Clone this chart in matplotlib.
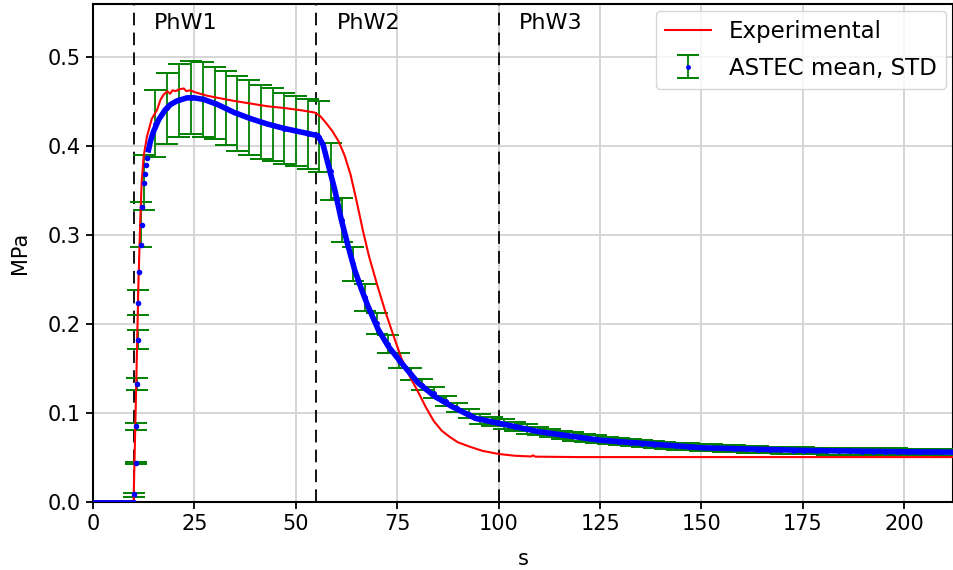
import numpy as np
import matplotlib.pyplot as plt

# experimental pressure trace
t_exp = [0, 10.0, 10.3, 10.6, 10.9, 11.2, 11.6, 12.0, 12.5, 13.3, 14.5, 15.8,
         16.6, 17.4, 18.3, 19.0, 19.6, 20.4, 21.2, 22.4, 23.0, 24.0, 25.0,
         26.5, 28.0, 30.7, 34.8, 38.9, 43.0, 47.2, 51.3, 54.6, 56.0, 57.5,
         59.0, 60.5, 62.0, 63.5, 65.0, 66.5, 68.0, 70.0, 72.0, 74.0, 76.0,
         78.0, 80.0, 82.0, 84.0, 86.0, 88.0, 90.0, 93.0, 96.0, 100.0, 104.0,
         108.0, 108.5, 109.0, 120.0, 150.0, 180.0, 213.0]
p_exp = [0.001, 0.001, 0.06, 0.12, 0.185, 0.245, 0.31, 0.36, 0.389, 0.411,
         0.431, 0.441, 0.452, 0.458, 0.462, 0.459, 0.463, 0.462, 0.464, 0.465,
         0.462, 0.463, 0.461, 0.459, 0.457, 0.4545, 0.451, 0.448, 0.445,
         0.443, 0.4405, 0.438, 0.434, 0.426, 0.417, 0.406, 0.39, 0.368,
         0.338, 0.306, 0.277, 0.245, 0.215, 0.188, 0.162, 0.142, 0.125,
         0.107, 0.091, 0.080, 0.073, 0.067, 0.062, 0.0575, 0.054, 0.052,
         0.0512, 0.0525, 0.051, 0.0505, 0.0505, 0.0505, 0.0505]

# ASTEC mean curve
t_mean = [0, 10.0, 10.2, 10.5, 10.65, 10.8, 11.0, 11.2, 11.4, 11.8, 12.0,
          12.2, 12.5, 12.7, 13.05, 13.3, 13.7, 14.1, 14.5, 14.95, 16.2, 17.8,
          19.1, 20.7, 23.2, 24.9, 27.3, 30.7, 34.8, 38.9, 43.0, 47.2, 51.3,
          55.4, 56.7, 57.9, 59.6, 61.2, 62.9, 64.5, 66.2, 67.8, 70.3, 72.8,
          76.1, 80.2, 84.3, 88.5, 94.3, 100.0, 110.0, 125.0, 150.0, 175.0,
          200.0, 213.0]
p_mean = [0.001, 0.001, 0.0085, 0.044, 0.085, 0.133, 0.182, 0.224, 0.259,
          0.289, 0.312, 0.332, 0.359, 0.369, 0.3795, 0.387, 0.396, 0.4046,
          0.411, 0.417, 0.430, 0.441, 0.447, 0.451, 0.4545, 0.4545, 0.4527,
          0.447, 0.438, 0.431, 0.425, 0.420, 0.416, 0.412, 0.402, 0.381,
          0.351, 0.3176, 0.2875, 0.261, 0.239, 0.22, 0.194, 0.175, 0.156,
          0.1337, 0.1186, 0.1073, 0.094, 0.0886, 0.079, 0.0695, 0.061,
          0.058, 0.0565, 0.056]

# ASTEC error bars (mean +- STD)
t_bar = [10.2, 10.5, 10.65, 10.8, 11.0, 11.2, 11.9, 12.5, 15.4, 18.3, 21.3,
         24.2, 27.1, 30.0, 32.8, 35.6, 38.5, 41.4, 44.3, 47.2, 50.1, 52.9,
         55.8, 58.6, 61.4, 64.2, 67.1, 69.9, 72.7, 75.5, 78.4, 81.2, 84.1,
         86.9, 89.8, 92.7, 95.5, 98.4, 101.2, 104.1, 106.9, 109.8, 112.6,
         115.5, 118.3, 121.2, 124.0, 126.9, 129.7, 132.6, 135.4, 138.3,
         141.1, 144.0, 146.8, 149.7, 152.5, 155.4, 158.2, 161.1, 163.9,
         166.8, 169.6, 172.5, 175.3, 178.2, 181.0, 183.9, 186.7, 189.6,
         192.4, 195.3, 198.1, 201.0, 203.8, 206.7, 209.5, 212.4]
p_bar = [0.008, 0.044, 0.085, 0.133, 0.1825, 0.224, 0.312, 0.359, 0.4255,
         0.4425, 0.4515, 0.4545, 0.453, 0.4485, 0.443, 0.437, 0.432, 0.427,
         0.424, 0.420, 0.417, 0.414, 0.411, 0.372, 0.317, 0.268, 0.230,
         0.201, 0.178, 0.159, 0.144, 0.132, 0.123, 0.1135, 0.106, 0.0995,
         0.0935, 0.0905, 0.0875, 0.0848, 0.0822, 0.0798, 0.0776, 0.0756,
         0.0738, 0.0722, 0.0706, 0.0692, 0.0679, 0.0667, 0.0656, 0.0646,
         0.0637, 0.0629, 0.0621, 0.0614, 0.0608, 0.0602, 0.0597, 0.0593,
         0.0589, 0.0585, 0.0582, 0.0579, 0.0576, 0.0574, 0.0572, 0.057,
         0.0568, 0.0567, 0.0566, 0.0565, 0.0564, 0.0563, 0.0562, 0.0561,
         0.056, 0.056]
s_bar = [0.002, 0.0015, 0.004, 0.007, 0.0105, 0.014, 0.025, 0.031, 0.0375,
         0.0395, 0.041, 0.041, 0.042, 0.0405, 0.042, 0.042, 0.042, 0.0415,
         0.041, 0.040, 0.039, 0.039, 0.0395, 0.032, 0.025, 0.019, 0.015,
         0.012, 0.010, 0.0085, 0.0068, 0.0065, 0.0058, 0.0055, 0.0052,
         0.0052, 0.0055, 0.0055, 0.0055, 0.0053, 0.0052, 0.005, 0.0049,
         0.0048, 0.0047, 0.0046, 0.0045, 0.0044, 0.0043, 0.0042, 0.0042,
         0.0041, 0.0041, 0.004, 0.004, 0.004, 0.0039, 0.0039, 0.0039,
         0.0038, 0.0038, 0.0038, 0.0038, 0.0038, 0.0038, 0.0038, 0.0038,
         0.0038, 0.0038, 0.0038, 0.0038, 0.0038, 0.0038, 0.0038, 0.0038,
         0.0038, 0.0038, 0.0038]

phases = [10, 55, 100]
phase_names = ["PhW1", "PhW2", "PhW3"]

fig = plt.figure(figsize=(9.54, 5.70), dpi=100)
ax = fig.add_axes([93/954, 68/570, 860/954, 498/570])

ax.grid(True, color="#d3d3d3", lw=1.3, zorder=0)
ax.set_axisbelow(True)

for x, name in zip(phases, phase_names):
    ax.axvline(x, color="black", ls=(0, (7, 4)), lw=1.3, zorder=2)
    ax.text(x + 5, 0.539, name, fontsize=16, va="center", ha="left")

eb = ax.errorbar(t_bar, p_bar, yerr=s_bar, fmt="o", ms=2.5, color="blue",
                 ecolor="green", elinewidth=1.3, capsize=8, capthick=1.4,
                 label="ASTEC mean, STD", zorder=3)
exp_line, = ax.plot(t_exp, p_exp, color="red", lw=1.5, label="Experimental",
                    zorder=3.5)

t_m = np.array(t_mean)
p_m = np.array(p_mean)
dense = t_m >= 13.5
flat = t_m <= 10
ax.plot(t_m[dense], p_m[dense], color="blue", lw=4, zorder=4)
ax.plot(t_m[flat], p_m[flat], color="blue", lw=2, zorder=4)
ax.plot(t_m[~flat & ~dense], p_m[~flat & ~dense], "o", color="blue", ms=3,
        zorder=4)

ax.set_xlim(0, 212)
ax.set_ylim(0, 0.56)
ax.set_xticks([0, 25, 50, 75, 100, 125, 150, 175, 200])
ax.set_yticks([0.0, 0.1, 0.2, 0.3, 0.4, 0.5])
ax.tick_params(labelsize=15, length=5, width=1.3)
ax.set_xlabel("s", fontsize=15, labelpad=11)
ax.set_ylabel("MPa", fontsize=15, labelpad=13)
for sp in ax.spines.values():
    sp.set_linewidth(1.5)

ax.legend([exp_line, eb], ["Experimental", "ASTEC mean, STD"],
          loc="upper right", fontsize=16.5, borderaxespad=0.3,
          labelspacing=0.6, framealpha=0.8)

fig.savefig("out.png", dpi=100)
